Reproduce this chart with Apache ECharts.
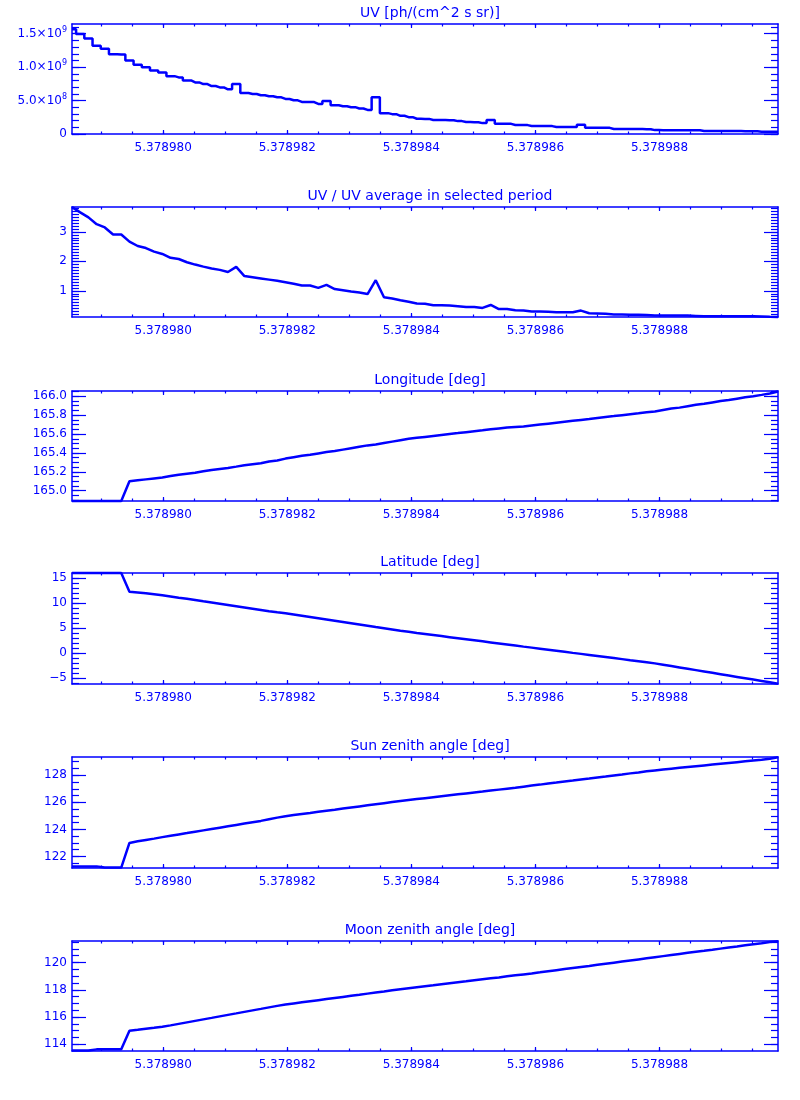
<!DOCTYPE html>
<html>
<head>
<meta charset="utf-8">
<script src="https://cdn.jsdelivr.net/npm/echarts@6/dist/echarts.min.js"></script>
<style>html,body{margin:0;padding:0;background:#fff}#c{width:800px;height:1100px}</style>
</head>
<body>
<div id="c"></div>
<script>
// ---------------- data ----------------
const xValues = [
5.378978530,5.378978662,5.378978795,5.378978927,5.378979059,5.378979192,5.378979324,5.378979456,5.378979589,5.378979721,
5.378979853,5.378979986,5.378980118,5.378980250,5.378980383,5.378980515,5.378980647,5.378980780,5.378980912,5.378981044,
5.378981177,5.378981309,5.378981441,5.378981574,5.378981706,5.378981838,5.378981971,5.378982103,5.378982235,5.378982368,
5.378982500,5.378982632,5.378982765,5.378982897,5.378983029,5.378983162,5.378983294,5.378983426,5.378983559,5.378983691,
5.378983823,5.378983956,5.378984088,5.378984220,5.378984353,5.378984485,5.378984617,5.378984750,5.378984882,5.378985014,
5.378985147,5.378985279,5.378985411,5.378985543,5.378985676,5.378985808,5.378985940,5.378986073,5.378986205,5.378986337,
5.378986470,5.378986602,5.378986734,5.378986867,5.378986999,5.378987131,5.378987264,5.378987396,5.378987528,5.378987661,
5.378987793,5.378987925,5.378988058,5.378988190,5.378988322,5.378988455,5.378988587,5.378988719,5.378988852,5.378988984,
5.378989116,5.378989249,5.378989381,5.378989513,5.378989646,5.378989778,5.378989910];

const uvFlux = [
1.568e9,1.494e9,1.429e9,1.320e9,1.276e9,1.191e9,1.189e9,1.098e9,1.034e9,0.999e9,
0.950e9,0.920e9,0.865e9,0.846e9,0.801e9,0.772e9,0.746e9,0.717e9,0.697e9,0.668e9,
0.746e9,0.613e9,0.598e9,0.579e9,0.564e9,0.549e9,0.524e9,0.504e9,0.480e9,0.478e9,
0.450e9,0.494e9,0.430e9,0.415e9,0.401e9,0.381e9,0.360e9,0.549e9,0.312e9,0.297e9,
0.272e9,0.252e9,0.228e9,0.226e9,0.209e9,0.208e9,0.207e9,0.193e9,0.179e9,0.177e9,
0.163e9,0.208e9,0.154e9,0.152e9,0.135e9,0.133e9,0.120e9,0.119e9,0.118e9,0.105e9,
0.104e9,0.103e9,0.138e9,0.094e9,0.093e9,0.092e9,0.075e9,0.074e9,0.074e9,0.073e9,
0.072e9,0.058e9,0.057e9,0.057e9,0.056e9,0.056e9,0.055e9,0.045e9,0.044e9,0.044e9,
0.043e9,0.043e9,0.042e9,0.042e9,0.034e9,0.033e9,0.032e9];

const uvRatio = [
3.84,3.66,3.49,3.26,3.15,2.91,2.91,2.67,2.52,2.45,
2.33,2.25,2.12,2.08,1.97,1.89,1.82,1.76,1.71,1.64,
1.81,1.50,1.46,1.42,1.38,1.34,1.29,1.24,1.18,1.18,
1.10,1.20,1.06,1.02,0.98,0.94,0.89,1.36,0.78,0.74,
0.68,0.63,0.57,0.56,0.51,0.51,0.50,0.48,0.45,0.45,
0.42,0.52,0.38,0.38,0.34,0.33,0.30,0.30,0.29,0.27,
0.27,0.27,0.33,0.24,0.23,0.22,0.20,0.20,0.19,0.19,
0.18,0.16,0.16,0.16,0.16,0.16,0.15,0.14,0.135,0.135,
0.135,0.135,0.135,0.135,0.13,0.12,0.112];

const longitude = [
164.89,164.89,164.89,164.89,164.89,164.89,164.89,165.10,165.11,165.12,
165.13,165.14,165.155,165.17,165.18,165.19,165.205,165.22,165.23,165.24,
165.255,165.27,165.28,165.29,165.31,165.32,165.34,165.355,165.37,165.38,
165.395,165.41,165.42,165.435,165.45,165.465,165.48,165.49,165.505,165.52,
165.535,165.55,165.56,165.57,165.58,165.59,165.60,165.61,165.62,165.63,
165.64,165.65,165.66,165.67,165.675,165.68,165.69,165.70,165.71,165.72,
165.73,165.74,165.75,165.76,165.77,165.78,165.79,165.80,165.81,165.82,
165.83,165.84,165.855,165.87,165.88,165.895,165.91,165.92,165.935,165.95,
165.96,165.975,165.99,166.00,166.015,166.03,166.05];

const latitude = [
15.96,15.96,15.96,15.96,15.96,15.96,15.96,12.2,12.05,11.9,
11.7,11.5,11.27,11.03,10.8,10.55,10.3,10.05,9.8,9.55,
9.3,9.05,8.8,8.55,8.3,8.1,7.9,7.65,7.4,7.15,
6.9,6.65,6.4,6.15,5.9,5.65,5.4,5.15,4.9,4.65,
4.4,4.2,3.98,3.77,3.56,3.35,3.14,2.93,2.72,2.51,
2.3,2.09,1.88,1.67,1.46,1.25,1.05,0.84,0.63,0.42,
0.21,0.0,-0.2,-0.41,-0.62,-0.83,-1.04,-1.25,-1.46,-1.67,
-1.88,-2.1,-2.37,-2.64,-2.91,-3.18,-3.45,-3.72,-3.99,-4.26,
-4.53,-4.8,-5.07,-5.34,-5.61,-5.88,-6.15];

const sunZenith = [
121.27,121.27,121.27,121.27,121.18,121.18,121.18,123.0,123.12,123.22,
123.32,123.43,123.53,123.63,123.73,123.83,123.93,124.03,124.13,124.23,
124.33,124.43,124.53,124.63,124.75,124.87,124.98,125.06,125.14,125.22,
125.3,125.38,125.46,125.54,125.62,125.7,125.78,125.86,125.94,126.02,
126.1,126.17,126.24,126.31,126.38,126.45,126.52,126.59,126.66,126.73,
126.8,126.87,126.94,127.01,127.08,127.16,127.24,127.31,127.39,127.46,
127.54,127.61,127.69,127.76,127.84,127.91,127.99,128.06,128.14,128.21,
128.29,128.36,128.43,128.49,128.55,128.61,128.67,128.73,128.79,128.85,
128.91,128.97,129.03,129.09,129.15,129.22,129.33];

const moonZenith = [
113.55,113.55,113.55,113.63,113.63,113.63,113.63,115.0,115.07,115.14,
115.21,115.29,115.39,115.5,115.61,115.72,115.83,115.94,116.05,116.16,
116.27,116.38,116.49,116.6,116.71,116.82,116.92,117.0,117.08,117.16,
117.24,117.32,117.4,117.48,117.56,117.64,117.72,117.8,117.88,117.96,
118.04,118.12,118.19,118.26,118.33,118.41,118.48,118.55,118.62,118.7,
118.77,118.84,118.91,118.99,119.06,119.13,119.2,119.28,119.36,119.44,
119.52,119.6,119.68,119.75,119.83,119.91,119.99,120.07,120.15,120.23,
120.31,120.39,120.47,120.55,120.63,120.71,120.79,120.86,120.94,121.02,
121.1,121.18,121.26,121.34,121.42,121.5,121.57];

const xTickLabels = [5.378980, 5.378982, 5.378984, 5.378986, 5.378988];
const uvTicks = [0, 5e8, 1e9, 1.5e9];
const ratioTicks = [1, 2, 3];
const lonTicks = [165.0, 165.2, 165.4, 165.6, 165.8, 166.0];
const latTicks = [-5, 0, 5, 10, 15];
const szaTicks = [122, 124, 126, 128];
const mzaTicks = [114, 116, 118, 120];
const titles = ['UV [ph/(cm^2 s sr)]', 'UV / UV average in selected period', 'Longitude [deg]',
  'Latitude [deg]', 'Sun zenith angle [deg]', 'Moon zenith angle [deg]'];

// ---------------- layout / style ----------------
const BLUE = '#0000ff';
const FONT = 'DejaVu Sans';
const X_MIN = 5.37897853, X_MAX = 5.37898991;
const X_MINOR = 0.5e-6;

function steps(min, max, step) {
  const out = [];
  const s = Math.ceil(min / step - 1e-9);
  for (let i = s; i * step <= max + 1e-12; i++) out.push(+(i * step).toPrecision(12));
  return out;
}

function uvFmt(v) {
  if (v === 0) return '0';
  const e = Math.floor(Math.log10(v) + 1e-9);
  const m = (v / Math.pow(10, e)).toFixed(1);
  return m + '×10{s|' + e + '}';
}

const panels = [
  {data: uvFlux, min: 0, max: 1.645e9, ticks: uvTicks, minor: 1e8, fmt: uvFmt, step: 'middle', top: 24, h: 110},
  {data: uvRatio, min: 0.112, max: 3.843, ticks: ratioTicks, minor: 0.1, fmt: v => String(v), top: 207, h: 110},
  {data: longitude, min: 164.891, max: 166.056, ticks: lonTicks, minor: 0.05, fmt: v => v.toFixed(1), top: 391, h: 110},
  {data: latitude, min: -6.22, max: 15.96, ticks: latTicks, minor: 1, fmt: v => (v < 0 ? '\u2212' + (-v) : String(v)), top: 573, h: 111},
  {data: sunZenith, min: 121.15, max: 129.35, ticks: szaTicks, minor: 0.5, fmt: v => String(v), top: 757, h: 111},
  {data: moonZenith, min: 113.51, max: 121.58, ticks: mzaTicks, minor: 0.5, fmt: v => String(v), top: 941, h: 110}
];

const grid = [], xAxis = [], yAxis = [], series = [], title = [];
const lineS = {color: BLUE, width: 1.5};
const tickS = {color: BLUE, width: 1.2};

panels.forEach((p, i) => {
  grid.push({left: 72, right: 22, top: p.top, height: p.h, containLabel: false});
  title.push({text: titles[i], left: 425, top: p.top - 23, textAlign: 'center',
    textStyle: {color: BLUE, fontFamily: FONT, fontSize: 14, fontWeight: 'normal'}});
  const xMinor = steps(X_MIN, X_MAX, X_MINOR);
  const xBase = {type: 'value', gridIndex: i, min: X_MIN, max: X_MAX, splitLine: {show: false}};
  const lineOn = {show: true, onZero: false, lineStyle: lineS};
  const lineOff = {show: false, onZero: false};
  // bottom major + labels
  xAxis.push(Object.assign({}, xBase, {position: 'bottom', axisLine: lineOn,
    axisTick: {show: true, inside: true, length: 4, customValues: xTickLabels, lineStyle: tickS},
    axisLabel: {show: true, customValues: xTickLabels, formatter: v => v.toFixed(6),
      color: BLUE, fontFamily: FONT, fontSize: 12, margin: 8}}));
  xAxis.push(Object.assign({}, xBase, {position: 'bottom', axisLine: lineOff,
    axisTick: {show: true, inside: true, length: 2.5, customValues: xMinor, lineStyle: tickS},
    axisLabel: {show: false}}));
  xAxis.push(Object.assign({}, xBase, {position: 'top', axisLine: lineOn,
    axisTick: {show: true, inside: true, length: 4, customValues: xTickLabels, lineStyle: tickS},
    axisLabel: {show: false}}));
  xAxis.push(Object.assign({}, xBase, {position: 'top', axisLine: lineOff,
    axisTick: {show: true, inside: true, length: 2.5, customValues: xMinor, lineStyle: tickS},
    axisLabel: {show: false}}));

  const yMinor = steps(p.min, p.max, p.minor);
  const yBase = {type: 'value', gridIndex: i, min: p.min, max: p.max, splitLine: {show: false}};
  yAxis.push(Object.assign({}, yBase, {position: 'left', axisLine: lineOn,
    axisTick: {show: true, inside: true, length: 14, customValues: p.ticks, lineStyle: tickS},
    axisLabel: {show: true, customValues: p.ticks, formatter: p.fmt, color: BLUE,
      fontFamily: FONT, fontSize: 12, margin: 5,
      rich: {s: {fontSize: 8, color: BLUE, fontFamily: FONT, padding: [0, 0, 8, 0]}}}}));
  yAxis.push(Object.assign({}, yBase, {position: 'left', axisLine: lineOff,
    axisTick: {show: true, inside: true, length: 7, customValues: yMinor, lineStyle: tickS},
    axisLabel: {show: false}}));
  yAxis.push(Object.assign({}, yBase, {position: 'right', axisLine: lineOn,
    axisTick: {show: true, inside: true, length: 14, customValues: p.ticks, lineStyle: tickS},
    axisLabel: {show: false}}));
  yAxis.push(Object.assign({}, yBase, {position: 'right', axisLine: lineOff,
    axisTick: {show: true, inside: true, length: 7, customValues: yMinor, lineStyle: tickS},
    axisLabel: {show: false}}));

  series.push({type: 'line', xAxisIndex: i * 4, yAxisIndex: i * 4,
    data: xValues.map((x, k) => [x, p.data[k]]),
    step: p.step || false, showSymbol: false, symbol: 'none', clip: false,
    lineStyle: {color: BLUE, width: 2.5}, itemStyle: {color: BLUE}});
});

const chart = echarts.init(document.getElementById('c'), null, {renderer: 'canvas'});
chart.setOption({backgroundColor: '#ffffff', animation: false, title, grid, xAxis, yAxis, series});
</script>
</body>
</html>
